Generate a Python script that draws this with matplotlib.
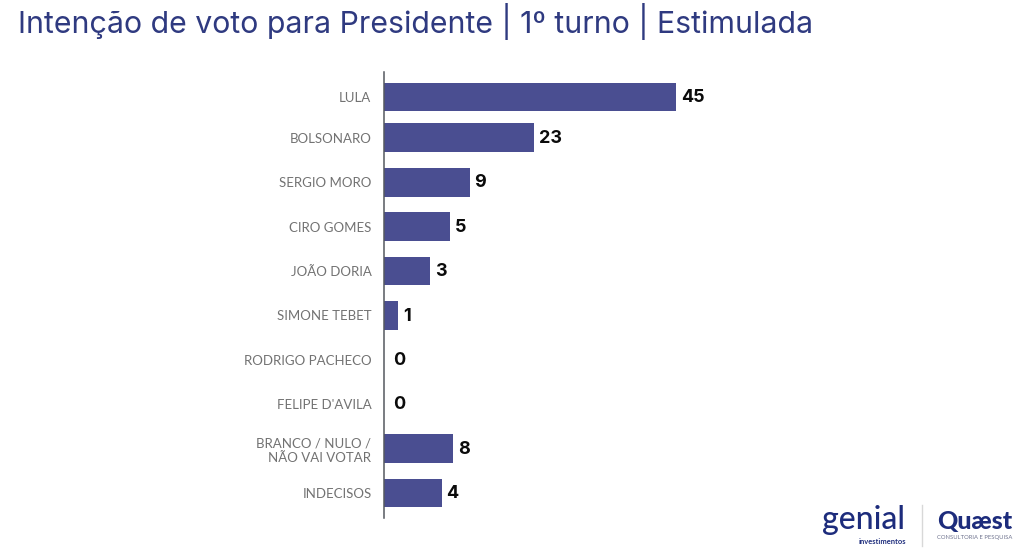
import matplotlib
matplotlib.use("Agg")
import matplotlib.pyplot as plt
import numpy as np

# drawn lengths do not follow the printed numbers
candidates = ["LULA", "BOLSONARO", "SERGIO MORO", "CIRO GOMES", "JOÃO DORIA",
              "SIMONE TEBET", "RODRIGO PACHECO", "FELIPE D'AVILA",
              "BRANCO / NULO /\nNÃO VAI VOTAR", "INDECISOS"]
bar_lengths = [45, 23.1, 13.2, 10.2, 7.1, 2.2, 0, 0, 10.6, 8.9]
printed_values = [45, 23, 9, 5, 3, 1, 0, 0, 8, 4]
title = "Intenção de voto para Presidente | 1º turno | Estimulada"

W, H = 1024, 553
BAR = "#4a4e91"
NAVY = "#2f3a80"
GREY = "#727272"
ROW = 44.4  # px between rows

fig = plt.figure(figsize=(W / 100, H / 100), dpi=100)
fig.patch.set_facecolor("white")

# axes in pixel terms: x=0 at 384px, one unit is 6.49px
ax = fig.add_axes([384 / W, (H - 518) / H, 600 / W, (518 - 72) / H])
ax.set_xlim(0, 600 / 6.49)
ax.set_ylim((518 - 93.4) / ROW, (72 - 93.4) / ROW)

rows = np.arange(len(candidates), dtype=float)
rows[0] += 0.08  # first bar sits a bit lower

ax.barh(rows, bar_lengths, height=0.65, color=BAR)

for y, length, val in zip(rows, bar_lengths, printed_values):
    ax.annotate(str(val), (max(length, 0.65), y), xytext=(3.5, -0.5), textcoords="offset points",
                va="center", ha="left", fontsize=13, fontweight="bold",
                family="Inter", color="#0b0b0b")

ax.set_yticks(rows)
ax.set_yticklabels(candidates, family="Lato", fontsize=9.5, color=GREY, linespacing=1.25)
ax.tick_params(axis="y", length=0, pad=9)
ax.set_xticks([])
for s in ["top", "right", "bottom"]:
    ax.spines[s].set_visible(False)
ax.spines["left"].set_color("#55585f")
ax.spines["left"].set_linewidth(1.1)
ax.patch.set_alpha(0)

fig.text(18 / W, 1 - 21 / H, title, fontsize=21.8, family="Inter", color=NAVY,
         va="center", ha="left")

# logos, as text
LOGO = "#1d2c7c"
fig.text(822 / W, 1 - 520 / H, "genial", fontsize=23, family="Lato", color=LOGO,
         va="center", ha="left", fontweight="medium")
fig.text(906 / W, 1 - 541 / H, "investimentos", fontsize=5.4, family="Lato", color=LOGO,
         va="center", ha="right", fontweight="bold")
fig.add_artist(plt.Line2D([922 / W, 922 / W], [1 - 505 / H, 1 - 546 / H], color="#d8d8d8", lw=1))
fig.text(937 / W, 1 - 522 / H, "Quæst", fontsize=18, family="Lato", color=LOGO,
         va="center", ha="left", fontweight="black")
fig.text(937 / W, 1 - 538 / H, "CONSULTORIA E PESQUISA", fontsize=4.2, family="Lato",
         color="#70748f", va="center", ha="left")

fig.savefig("out.png", dpi=100)
